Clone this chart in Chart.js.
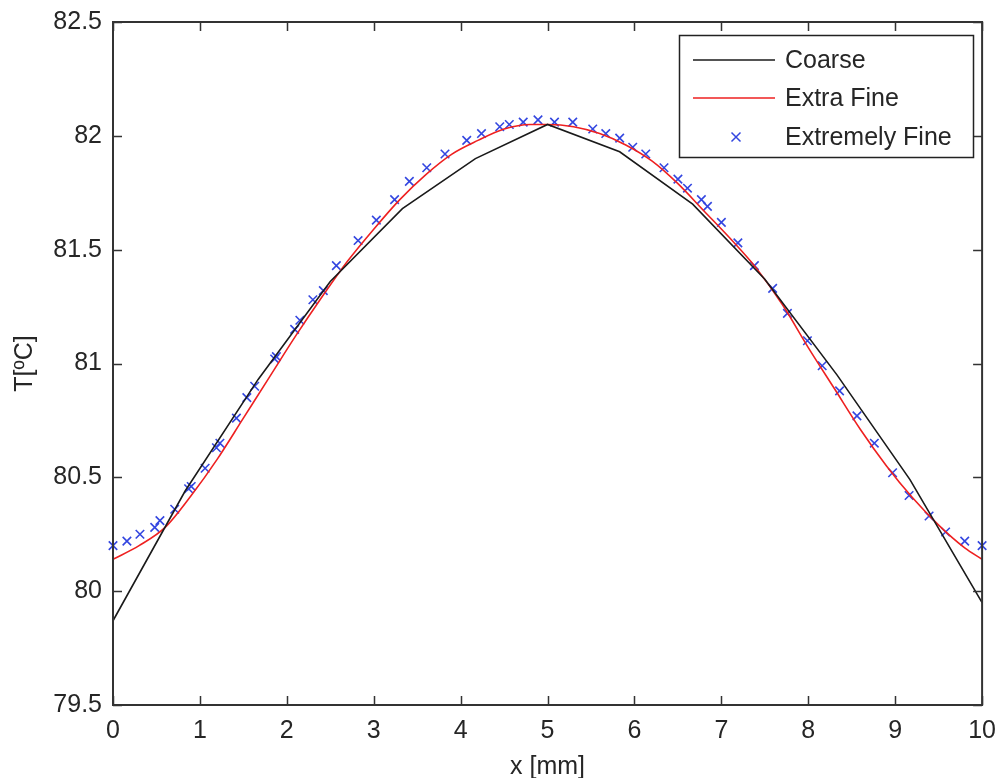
<!DOCTYPE html>
<html>
<head>
<meta charset="utf-8">
<script src="https://cdn.jsdelivr.net/npm/chart.js@4"></script>
<style>
  html, body { margin: 0; padding: 0; background: #fff; }
  #wrap { width: 999px; height: 778px; }
</style>
</head>
<body>
<div id="wrap"><canvas id="c" width="999" height="778"></canvas></div>
<script>
// ---- data ----
const seriesNames = ['Coarse', 'Extra Fine', 'Extremely Fine'];

const coarseX = [0, 0.83, 1.67, 2.5, 3.33, 4.17, 5.0, 5.83, 6.67, 7.5, 8.33, 9.17, 10];
const coarseT = [79.87, 80.44, 80.93, 81.36, 81.68, 81.90, 82.05, 81.93, 81.70, 81.37, 80.95, 80.49, 79.95];

const extraFineX = [0, 0.3, 0.6, 0.9, 1.2, 1.5, 1.8, 2.1, 2.4, 2.7, 3.0, 3.3, 3.6, 3.9, 4.2, 4.5, 4.8, 5.0,
                    5.3, 5.6, 5.9, 6.2, 6.5, 6.8, 7.1, 7.4, 7.7, 8.0, 8.3, 8.6, 8.9, 9.2, 9.5, 9.8, 10];
const extraFineT = [80.14, 80.20, 80.28, 80.42, 80.58, 80.76, 80.94, 81.12, 81.29, 81.45, 81.59, 81.72, 81.83, 81.92, 81.98, 82.03, 82.05, 82.05,
                    82.04, 82.01, 81.96, 81.89, 81.79, 81.67, 81.55, 81.42, 81.26, 81.07, 80.89, 80.71, 80.55, 80.41, 80.29, 80.19, 80.14];

const extremelyFineX = [0.00, 0.16, 0.31, 0.48, 0.54, 0.71, 0.87, 0.90, 1.06, 1.19, 1.23, 1.42, 1.54, 1.63, 1.86, 1.88,
                        2.09, 2.15, 2.30, 2.42, 2.57, 2.82, 3.03, 3.24, 3.41, 3.61, 3.82, 4.07, 4.24, 4.45, 4.56, 4.72,
                        4.89, 5.08, 5.29, 5.52, 5.67, 5.83, 5.98, 6.13, 6.34, 6.50, 6.61, 6.77, 6.84, 7.00, 7.19, 7.38,
                        7.59, 7.76, 7.99, 8.16, 8.36, 8.56, 8.76, 8.97, 9.16, 9.39, 9.58, 9.80, 10.0];
const extremelyFineT = [80.20, 80.22, 80.25, 80.28, 80.31, 80.36, 80.45, 80.46, 80.54, 80.63, 80.65, 80.76, 80.85, 80.90, 81.02, 81.03,
                        81.15, 81.19, 81.28, 81.32, 81.43, 81.54, 81.63, 81.72, 81.80, 81.86, 81.92, 81.98, 82.01, 82.04, 82.05, 82.06,
                        82.07, 82.06, 82.06, 82.03, 82.01, 81.99, 81.95, 81.92, 81.86, 81.81, 81.77, 81.72, 81.69, 81.62, 81.53, 81.43,
                        81.33, 81.22, 81.10, 80.99, 80.88, 80.77, 80.65, 80.52, 80.42, 80.33, 80.26, 80.22, 80.20];

const xTickValues = [0, 1, 2, 3, 4, 5, 6, 7, 8, 9, 10];
const yTickLabels = ['79.5', '80', '80.5', '81', '81.5', '82', '82.5'];
const xTitle = 'x [mm]';
const yTitle = 'T[ºC]';

// ---- chart ----
const FONT = "'Liberation Sans', Arial, sans-serif";
const TXT = '#262626';
const toPts = (xs, ys) => xs.map((v, i) => ({ x: v, y: ys[i] }));

const colCoarse = '#1a1a1a';
const colFine = '#ee2020';
const colXF = '#3346e0';

const framePlugin = {
  id: 'frame',
  afterDatasetsDraw(chart) {
    const { ctx, chartArea: a, scales: { x, y } } = chart;
    ctx.save();
    ctx.strokeStyle = '#333';
    ctx.lineWidth = 1.5;
    const L = 9;
    ctx.beginPath();
    x.ticks.forEach(t => {
      const px = Math.round(x.getPixelForValue(t.value)) + 0.5;
      ctx.moveTo(px, a.bottom); ctx.lineTo(px, a.bottom - L);
      ctx.moveTo(px, a.top); ctx.lineTo(px, a.top + L);
    });
    y.ticks.forEach(t => {
      const py = Math.round(y.getPixelForValue(t.value)) + 0.5;
      ctx.moveTo(a.left, py); ctx.lineTo(a.left + L, py);
      ctx.moveTo(a.right, py); ctx.lineTo(a.right - L, py);
    });
    ctx.stroke();
    ctx.lineWidth = 2;
    ctx.strokeRect(a.left, a.top, a.right - a.left, a.bottom - a.top);

    // legend box (inside plot, top-right)
    const bx = 679, by = 35, bw = 294, bh = 122;
    ctx.fillStyle = '#fff';
    ctx.fillRect(bx, by, bw, bh);
    ctx.strokeStyle = '#222';
    ctx.lineWidth = 1.5;
    ctx.strokeRect(bx + 0.5, by + 0.5, bw, bh);
    const rows = [60, 98, 137];
    const ds = chart.data.datasets;
    ctx.font = '25px ' + FONT;
    ctx.textBaseline = 'middle';
    ctx.textAlign = 'left';
    ds.forEach((d, i) => {
      const ry = rows[i];
      if (d.showLine !== false) {
        ctx.strokeStyle = d.borderColor;
        ctx.lineWidth = d.borderWidth;
        ctx.beginPath(); ctx.moveTo(693, ry); ctx.lineTo(775, ry); ctx.stroke();
      } else {
        ctx.strokeStyle = d.borderColor;
        ctx.lineWidth = 1.5;
        const r = 4.5;
        ctx.beginPath();
        ctx.moveTo(736 - r, ry - r); ctx.lineTo(736 + r, ry + r);
        ctx.moveTo(736 - r, ry + r); ctx.lineTo(736 + r, ry - r);
        ctx.stroke();
      }
      ctx.fillStyle = TXT;
      ctx.fillText(d.label, 785, ry + 1);
    });
    ctx.restore();
  }
};

new Chart(document.getElementById('c'), {
  type: 'line',
  data: {
    datasets: [
      { label: seriesNames[0], data: toPts(coarseX, coarseT), borderColor: colCoarse, borderWidth: 1.6,
        pointRadius: 0, tension: 0, fill: false, clip: false },
      { label: seriesNames[1], data: toPts(extraFineX, extraFineT), borderColor: colFine, borderWidth: 1.6,
        pointRadius: 0, cubicInterpolationMode: 'monotone', fill: false, clip: false },
      { label: seriesNames[2], data: toPts(extremelyFineX, extremelyFineT), borderColor: colXF, backgroundColor: colXF,
        showLine: false, pointStyle: 'crossRot', pointRadius: 6, pointBorderWidth: 1.6, clip: false }
    ]
  },
  options: {
    responsive: false,
    animation: false,
    devicePixelRatio: 1,
    layout: { padding: { top: 22, right: 16, left: 0, bottom: 0 } },
    plugins: { legend: { display: false }, tooltip: { enabled: false } },
    scales: {
      x: {
        type: 'linear', min: 0, max: 10,
        afterBuildTicks: s => { s.ticks = xTickValues.map(v => ({ value: v })); },
        afterFit: s => { s.height = 73; },
        grid: { display: false }, border: { display: false },
        ticks: { color: TXT, font: { family: FONT, size: 25 }, padding: 3, maxRotation: 0,
                 callback: v => String(v) },
        title: { display: true, text: xTitle, color: TXT, font: { family: FONT, size: 25, lineHeight: 0.9 }, padding: 0 }
      },
      y: {
        type: 'linear', min: 79.5, max: 82.5,
        afterBuildTicks: s => { s.ticks = yTickLabels.map(t => ({ value: parseFloat(t) })); },
        afterFit: s => { s.width = 113; },
        grid: { display: false }, border: { display: false },
        ticks: { color: TXT, font: { family: FONT, size: 25 }, padding: 3,
                 callback: v => yTickLabels.find(t => parseFloat(t) === v) },
        title: { display: true, text: yTitle, color: TXT, font: { family: FONT, size: 25, lineHeight: 1.2 }, padding: { top: 10, bottom: 0 } }
      }
    }
  },
  plugins: [framePlugin]
});
</script>
</body>
</html>
